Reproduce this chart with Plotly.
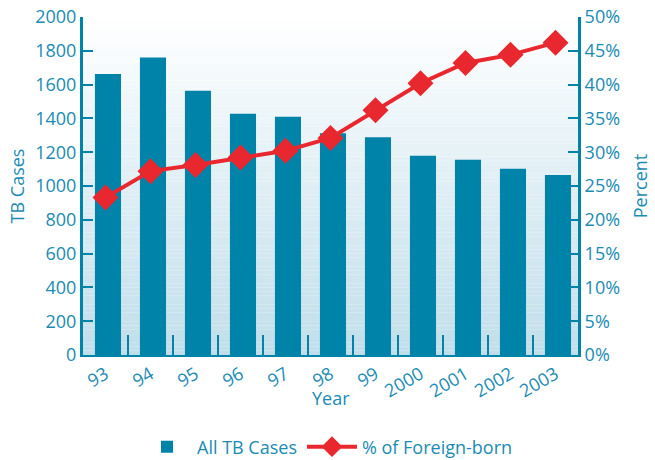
import plotly.graph_objects as go

years = ["93", "94", "95", "96", "97", "98", "99", "2000", "2001", "2002", "2003"]
tb_cases = [1663, 1761, 1564, 1428, 1410, 1312, 1288, 1179, 1156, 1102, 1065]
pct_foreign = [23.3, 27.2, 28.1, 29.2, 30.2, 32.1, 36.2, 40.2, 43.2, 44.4, 46.2]

TEAL = "#0083a9"
TXT = "#1a8bb3"
RED = "#e8282e"
FONT = "Open Sans"

fig = go.Figure()
fig.add_trace(go.Bar(x=years, y=tb_cases, name="All TB Cases", marker_color=TEAL,
                     marker_line_width=0, width=0.58, offset=-0.235, yaxis="y"))
fig.add_trace(go.Scatter(x=years, y=pct_foreign, name="% of Foreign-born", mode="lines+markers",
                         line=dict(color=RED, width=4),
                         marker=dict(symbol="diamond", size=20, color=RED), yaxis="y2"))

# vertical gradient background in plot area
shapes = []
n = 80
top = (255, 255, 255)
bot = (192, 222, 234)
for i in range(n):
    t = (i + 0.5) / n
    c = tuple(round(top[k] + (bot[k] - top[k]) * t) for k in range(3))
    shapes.append(dict(type="rect", xref="x domain", yref="y domain",
                       x0=0, x1=1, y0=1 - (i + 1) / n, y1=1 - i / n,
                       fillcolor="rgb(%d,%d,%d)" % c, line_width=0, layer="below"))

fig.update_layout(
    width=655, height=460,
    margin=dict(l=83, r=77, t=17, b=105),
    paper_bgcolor="white", plot_bgcolor="rgba(0,0,0,0)",
    font=dict(family=FONT, color=TXT, size=18),
    shapes=shapes,
    showlegend=True,
    legend=dict(orientation="h", x=0.5, xanchor="center", xref="container",
                y=13 / 460, yanchor="middle", yref="container", itemwidth=50,
                font=dict(size=18, color=TXT)),
    annotations=[dict(text="Year", xref="paper", yref="paper", x=0.5, y=0,
                      xanchor="center", yanchor="top", yshift=-29, showarrow=False,
                      font=dict(size=18, color=TXT))],
    xaxis=dict(type="category", range=[-0.5, len(years) - 0.5], showline=True,
               linecolor=TEAL, linewidth=2,
               ticks="inside", ticklen=20, tickcolor=TEAL, tickwidth=2, tickson="boundaries",
               tickangle=-30, automargin=False,
               showgrid=False, zeroline=False),
    yaxis=dict(range=[0, 2000], dtick=200, showline=True, linecolor=TEAL, linewidth=3,
               ticks="inside", ticklen=10, tickcolor=TEAL, tickwidth=2, automargin=False,
               ticklabeloverflow="allow",
               showgrid=False, zeroline=False,
               title=dict(text="TB Cases", standoff=6, font=dict(size=18))),
    yaxis2=dict(range=[0, 50], dtick=5, ticksuffix="%", overlaying="y", side="right",
                showline=True, linecolor=TEAL, linewidth=3, ticks="inside", ticklen=10,
                tickcolor=TEAL, tickwidth=2, showgrid=False, zeroline=False, automargin=False,
                ticklabeloverflow="allow",
                title=dict(text="Percent", standoff=16, font=dict(size=18))),
)

fig.write_html("out.html", config={"displayModeBar": False},
               post_script="document.body.style.margin='0';document.body.style.overflow='hidden';")
